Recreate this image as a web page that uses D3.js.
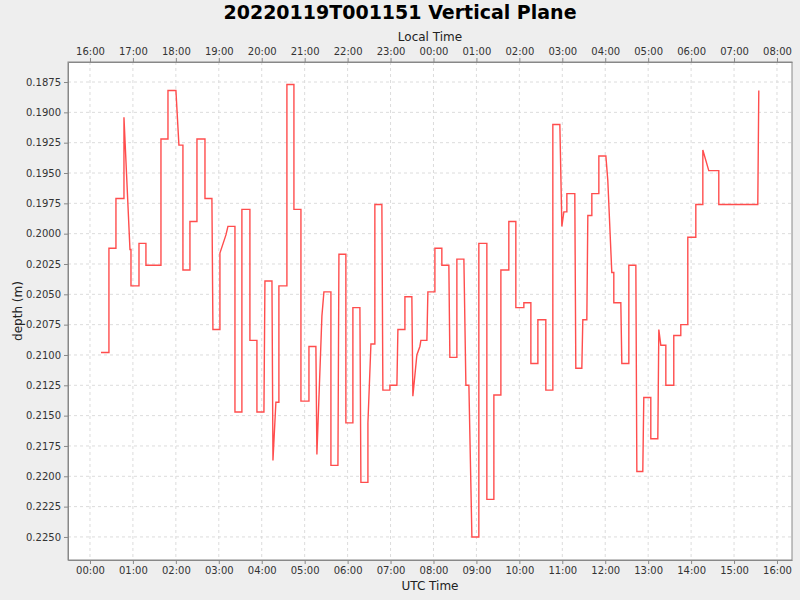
<!DOCTYPE html>
<html><head><meta charset="utf-8">
<script src="https://cdn.jsdelivr.net/npm/d3@7"></script>
<style>body{margin:0;background:#eeeeee;}svg{display:block;font-family:"DejaVu Sans",sans-serif;}</style>
</head><body><svg id="c" width="800" height="600"></svg>
<script>
// minutes after 2022-01-19 00:00 UTC
const timesMin = [15.4,26.5,26.5,36.3,36.3,47.5,47.5,55.9,57.3,57.3,68.5,68.5,78.2,78.2,99.2,99.2,109.0,109.0,120.1,124.3,129.9,129.9,139.7,139.7,149.5,149.5,160.7,160.7,170.4,171.8,181.6,181.6,190.0,192.8,202.6,202.6,212.3,212.3,223.5,223.5,233.3,233.3,243.1,244.5,254.3,255.7,259.8,264.0,264.0,275.2,275.2,285.0,285.0,294.8,294.8,306.0,306.0,315.7,317.1,324.1,326.9,336.7,336.7,346.5,347.9,357.6,357.6,367.4,367.4,377.2,378.6,388.4,388.4,392.6,398.1,398.1,407.9,409.3,419.1,419.1,428.9,430.3,440.1,440.1,449.8,451.2,456.8,461.0,462.4,470.8,472.2,482.0,482.0,491.7,491.7,501.5,502.9,512.7,512.7,522.5,525.3,529.5,533.7,543.4,543.4,554.6,554.6,564.4,564.4,574.2,574.2,585.3,585.3,595.1,595.1,606.3,606.3,616.1,616.1,625.9,625.9,637.0,637.0,646.8,646.8,656.6,659.4,662.2,666.4,666.4,677.5,678.9,687.3,688.7,694.3,695.7,701.3,701.3,711.1,711.1,720.9,723.6,729.2,732.0,732.0,741.8,743.2,753.0,753.0,762.8,764.2,772.5,773.9,783.7,783.7,793.5,794.9,797.7,804.7,804.7,815.8,815.8,825.6,825.6,835.4,835.4,846.6,846.6,856.4,856.4,864.7,878.7,878.7,933.2,934.6];
const depths = [.2098,.2098,.2012,.2012,.1971,.1971,.1904,.2013,.2013,.2043,.2043,.2008,.2008,.2026,.2026,.1922,.1922,.1882,.1882,.1927,.1927,.2030,.2030,.1990,.1990,.1922,.1922,.1971,.1971,.2079,.2079,.2016,.2001,.1994,.1994,.2147,.2147,.1980,.1980,.2088,.2088,.2147,.2147,.2039,.2039,.2187,.2139,.2139,.2043,.2043,.1877,.1877,.1980,.1980,.2138,.2138,.2093,.2093,.2182,.2068,.2048,.2048,.2191,.2191,.2017,.2017,.2156,.2156,.2061,.2061,.2205,.2205,.2156,.2091,.2091,.1976,.1976,.2129,.2129,.2125,.2125,.2079,.2079,.2052,.2052,.2134,.2100,.2093,.2088,.2088,.2048,.2048,.2012,.2012,.2026,.2026,.2102,.2102,.2021,.2021,.2125,.2125,.2250,.2250,.2008,.2008,.2219,.2219,.2133,.2133,.2030,.2030,.1990,.1990,.2061,.2061,.2057,.2057,.2107,.2107,.2071,.2071,.2129,.2129,.1910,.1910,.1994,.1982,.1982,.1967,.1967,.2111,.2111,.2071,.2071,.1985,.1985,.1967,.1967,.1936,.1936,.1956,.2032,.2032,.2057,.2057,.2107,.2107,.2026,.2026,.2196,.2196,.2135,.2135,.2169,.2169,.2079,.2092,.2092,.2125,.2125,.2084,.2084,.2075,.2075,.2003,.2003,.1976,.1976,.1931,.1948,.1948,.1976,.1976,.1882];
const utcTickLabels = ["00:00","01:00","02:00","03:00","04:00","05:00","06:00","07:00","08:00","09:00","10:00","11:00","12:00","13:00","14:00","15:00","16:00"];
const localTickLabels = ["16:00","17:00","18:00","19:00","20:00","21:00","22:00","23:00","00:00","01:00","02:00","03:00","04:00","05:00","06:00","07:00","08:00"];
const depthTicks = [0.1875,0.19,0.1925,0.195,0.1975,0.2,0.2025,0.205,0.2075,0.21,0.2125,0.215,0.2175,0.22,0.2225,0.225];

const L=68,R=792,T=62,B=560;
const svg=d3.select("#c");
const x=d3.scaleLinear().domain([-30.7,981]).range([L,R]);
const y=d3.scaleLinear().domain([0.18585,0.2269]).range([T,B]);
const tickMins=utcTickLabels.map((d,i)=>i*60);

svg.append("rect").attr("x",L).attr("y",T).attr("width",R-L).attr("height",B-T).attr("fill","#fff");
const g=svg.append("g");
g.selectAll(".vg").data(tickMins).join("line").attr("x1",d=>x(d)).attr("x2",d=>x(d)).attr("y1",T).attr("y2",B)
 .attr("stroke","#dcdcdc").attr("stroke-dasharray","3,3");
g.selectAll(".hg").data(depthTicks).join("line").attr("x1",L).attr("x2",R).attr("y1",d=>y(d)).attr("y2",d=>y(d))
 .attr("stroke","#dcdcdc").attr("stroke-dasharray","3,3");

const line=d3.line().x(d=>x(d[0])).y(d=>y(d[1]));
svg.append("path").datum(timesMin.map((t,i)=>[t,depths[i]])).attr("d",line)
 .attr("fill","none").attr("stroke","#ff4d4d").attr("stroke-width",1.4);

svg.append("rect").attr("x",L).attr("y",T).attr("width",R-L).attr("height",B-T).attr("fill","none").attr("stroke","#888");

const bx=svg.append("g").attr("transform",`translate(0,${B})`)
 .call(d3.axisBottom(x).tickValues(tickMins).tickFormat((d,i)=>utcTickLabels[i]).tickSize(4).tickSizeOuter(0));
const tx=svg.append("g").attr("transform",`translate(0,${T})`)
 .call(d3.axisTop(x).tickValues(tickMins).tickFormat((d,i)=>localTickLabels[i]).tickSize(4).tickSizeOuter(0));
const ly=svg.append("g").attr("transform",`translate(${L},0)`)
 .call(d3.axisLeft(y).tickValues(depthTicks).tickFormat(d3.format(".4f")).tickSize(4).tickSizeOuter(0));
[bx,tx,ly].forEach(a=>{a.select(".domain").attr("stroke","#888");a.selectAll(".tick line").attr("stroke","#888");
 a.selectAll("text").attr("font-size",10).attr("font-family","DejaVu Sans").attr("fill","#333");});

svg.append("text").attr("x",400).attr("y",19).attr("text-anchor","middle").attr("font-size",19).attr("font-weight","bold").text("20220119T001151 Vertical Plane");
svg.append("text").attr("x",430).attr("y",41).attr("text-anchor","middle").attr("font-size",12).attr("fill","#222").text("Local Time");
svg.append("text").attr("x",430).attr("y",590).attr("text-anchor","middle").attr("font-size",12).attr("fill","#222").text("UTC Time");
svg.append("text").attr("transform","translate(22,311) rotate(-90)").attr("text-anchor","middle").attr("font-size",12).attr("fill","#222").text("depth (m)");
</script></body></html>
